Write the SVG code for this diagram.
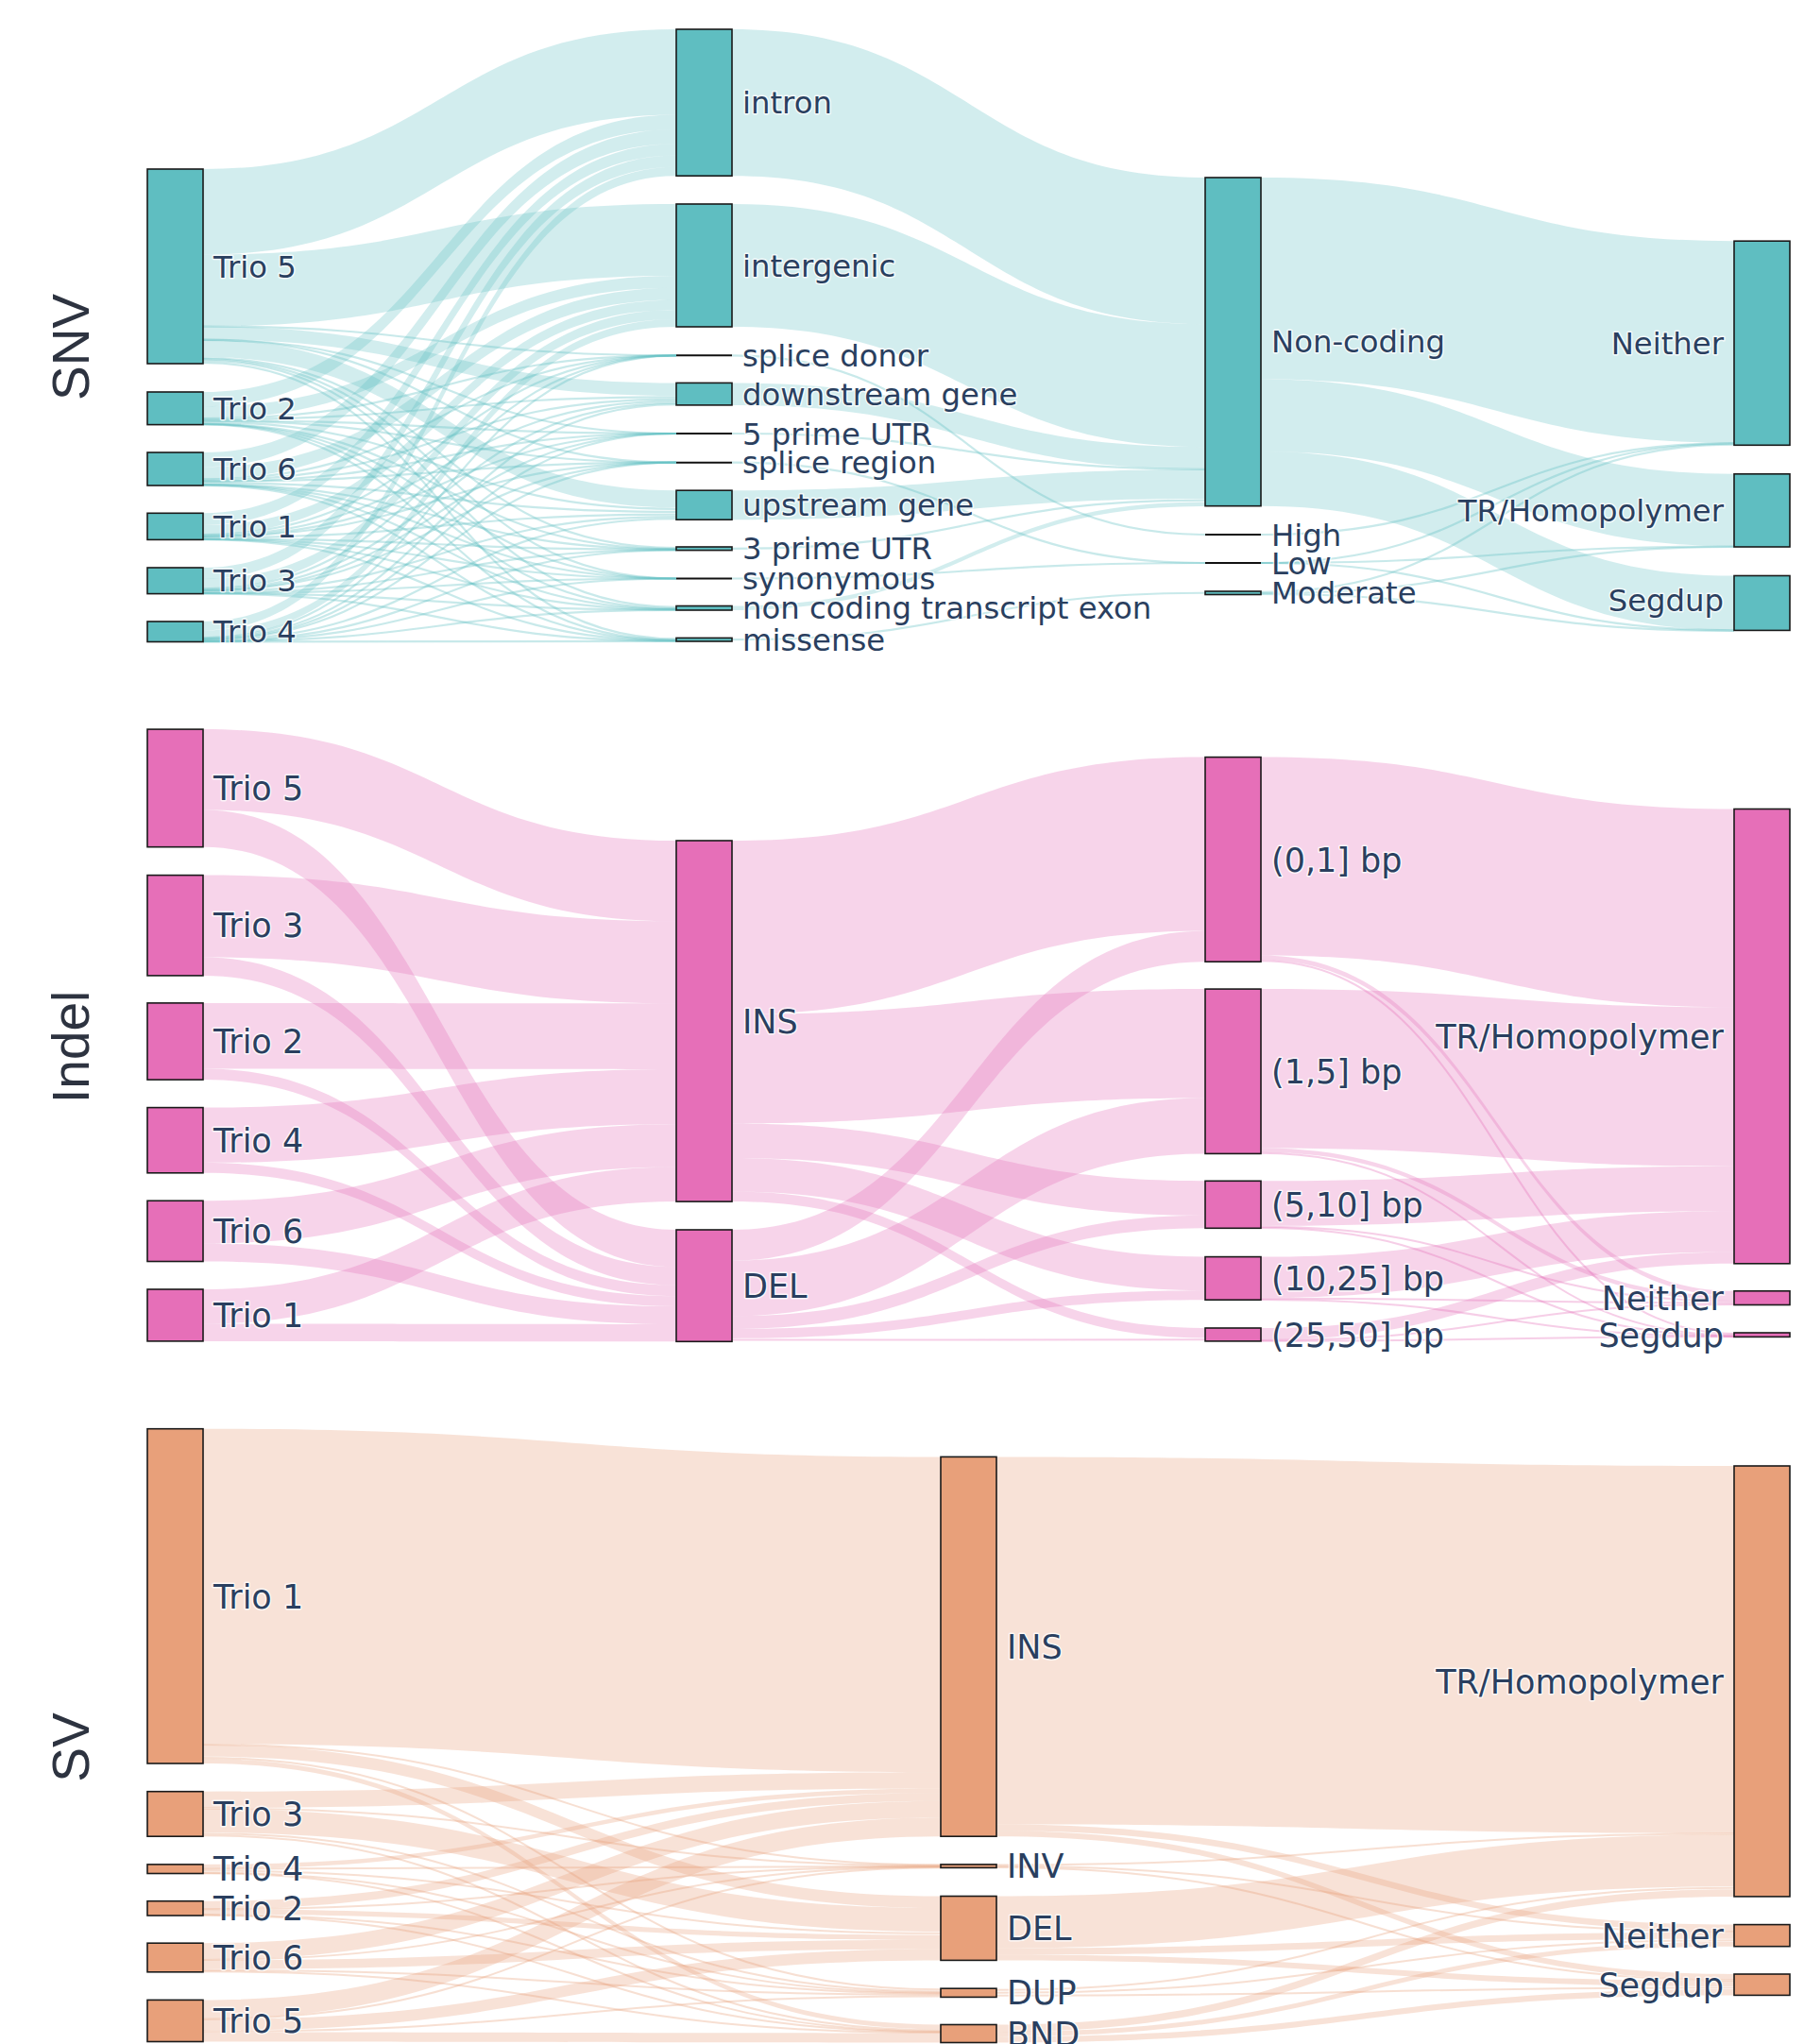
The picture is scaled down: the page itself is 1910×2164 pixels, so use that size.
<svg xmlns="http://www.w3.org/2000/svg" width="1910" height="2164" viewBox="0 0 1910 2164">
<style>
.ls{fill:#5fbec1;fill-opacity:.28}
.lst{fill:none;stroke:#5fbec1;stroke-opacity:.34;stroke-width:2.2}
.li{fill:#e66fb8;fill-opacity:.3}
.lit{fill:none;stroke:#e66fb8;stroke-opacity:.34;stroke-width:2}
.lv{fill:#e8a07a;fill-opacity:.3}
.lvt{fill:none;stroke:#e8a07a;stroke-opacity:.34;stroke-width:2}
.ns{fill:#5fbec1;stroke:#1a1a1a;stroke-width:1.6}
.ni{fill:#e66fb8;stroke:#1a1a1a;stroke-width:1.6}
.nv{fill:#e8a07a;stroke:#1a1a1a;stroke-width:1.6}
.z{stroke:#111;stroke-width:2}
.t{font-family:"DejaVu Sans",Verdana,sans-serif;fill:#2a3f5f;paint-order:stroke;stroke:#fff;stroke-width:3;stroke-opacity:.75;stroke-linejoin:round}
.a{font-size:32.3px}
.b{font-size:35px}
.e{text-anchor:end}
.ttl{font-family:"Liberation Sans",Arial,sans-serif;font-size:55px;fill:#2d3340;text-anchor:middle}
</style>
<rect width="1910" height="2164" fill="#fff"/>
<g id="links">
<g id="links-snv">
<path class="ls" d="M215,179C465.5,179 465.5,31 716,31L716,121.6C465.5,121.6 465.5,269.6 215,269.6Z"/>
<path class="ls" d="M215,269.6C465.5,269.6 465.5,216 716,216L716,291.9C465.5,291.9 465.5,345.6 215,345.6Z"/>
<path class="ls" d="M215,345.8C465.5,345.8 465.5,405.4 716,405.4L716,419.1C465.5,419.1 465.5,359.5 215,359.5Z"/>
<path class="ls" d="M215,359.9C465.5,359.9 465.5,519.2 716,519.2L716,537.3C465.5,537.3 465.5,378 215,378Z"/>
<path class="ls" d="M215,415C465.5,415 465.5,121.6 716,121.6L716,136.9C465.5,136.9 465.5,430.2 215,430.2Z"/>
<path class="ls" d="M215,430.2C465.5,430.2 465.5,291.9 716,291.9L716,304.7C465.5,304.7 465.5,443 215,443Z"/>
<path class="ls" d="M215,479C465.5,479 465.5,136.9 716,136.9L716,152.2C465.5,152.2 465.5,494.4 215,494.4Z"/>
<path class="ls" d="M215,494.4C465.5,494.4 465.5,304.7 716,304.7L716,317.6C465.5,317.6 465.5,507.3 215,507.3Z"/>
<path class="ls" d="M215,543.3C465.5,543.3 465.5,152.2 716,152.2L716,164.6C465.5,164.6 465.5,555.7 215,555.7Z"/>
<path class="ls" d="M215,555.7C465.5,555.7 465.5,317.6 716,317.6L716,327.9C465.5,327.9 465.5,566 215,566Z"/>
<path class="ls" d="M215,601C465.5,601 465.5,164.6 716,164.6L716,176.75C465.5,176.75 465.5,613.1 215,613.1Z"/>
<path class="ls" d="M215,613.1C465.5,613.1 465.5,327.9 716,327.9L716,338.1C465.5,338.1 465.5,623.3 215,623.3Z"/>
<path class="ls" d="M215,658C465.5,658 465.5,176.75 716,176.75L716,186.2C465.5,186.2 465.5,667.5 215,667.5Z"/>
<path class="ls" d="M215,667.5C465.5,667.5 465.5,338.1 716,338.1L716,346C465.5,346 465.5,675.4 215,675.4Z"/>
<path class="lst" d="M215,345.7C465.5,345.7 465.5,376.3 716,376.3"/>
<path class="lst" d="M215,359.6C465.5,359.6 465.5,459 716,459"/>
<path class="lst" d="M215,359.8C465.5,359.8 465.5,489.7 716,489.7"/>
<path class="lst" stroke-width="2.4" d="M215,379.05C465.5,379.05 465.5,580.05 716,580.05"/>
<path class="lst" d="M215,380.2C465.5,380.2 465.5,612.5 716,612.5"/>
<path class="lst" stroke-width="2.8" d="M215,381.6C465.5,381.6 465.5,642.8 716,642.8"/>
<path class="lst" stroke-width="2.4" d="M215,383.95C465.5,383.95 465.5,676.45 716,676.45"/>
<path class="lst" d="M215,443C465.5,443 465.5,376.3 716,376.3"/>
<path class="lst" stroke-width="2.5" d="M215,444.15C465.5,444.15 465.5,420.3 716,420.3"/>
<path class="lst" d="M215,445.3C465.5,445.3 465.5,459 716,459"/>
<path class="lst" d="M215,445.4C465.5,445.4 465.5,489.7 716,489.7"/>
<path class="lst" stroke-width="3" d="M215,446.9C465.5,446.9 465.5,538.8 716,538.8"/>
<path class="lst" d="M215,448.6C465.5,448.6 465.5,581.3 716,581.3"/>
<path class="lst" d="M215,448.8C465.5,448.8 465.5,612.5 716,612.5"/>
<path class="lst" d="M215,449C465.5,449 465.5,644.35 716,644.35"/>
<path class="lst" d="M215,449.4C465.5,449.4 465.5,677.7 716,677.7"/>
<path class="lst" d="M215,507.3C465.5,507.3 465.5,376.3 716,376.3"/>
<path class="lst" stroke-width="2.5" d="M215,508.5C465.5,508.5 465.5,422.6 716,422.6"/>
<path class="lst" d="M215,509.7C465.5,509.7 465.5,459 716,459"/>
<path class="lst" d="M215,509.7C465.5,509.7 465.5,489.7 716,489.7"/>
<path class="lst" stroke-width="3.1" d="M215,511.3C465.5,511.3 465.5,541.9 716,541.9"/>
<path class="lst" d="M215,513C465.5,513 465.5,581.6 716,581.6"/>
<path class="lst" d="M215,513.2C465.5,513.2 465.5,612.5 716,612.5"/>
<path class="lst" d="M215,513.4C465.5,513.4 465.5,644.8 716,644.8"/>
<path class="lst" d="M215,513.8C465.5,513.8 465.5,678 716,678"/>
<path class="lst" d="M215,566C465.5,566 465.5,376.3 716,376.3"/>
<path class="lst" d="M215,567C465.5,567 465.5,424.7 716,424.7"/>
<path class="lst" d="M215,567.9C465.5,567.9 465.5,459 716,459"/>
<path class="lst" d="M215,568C465.5,568 465.5,489.7 716,489.7"/>
<path class="lst" stroke-width="2.5" d="M215,569.2C465.5,569.2 465.5,544.65 716,544.65"/>
<path class="lst" d="M215,570.6C465.5,570.6 465.5,581.95 716,581.95"/>
<path class="lst" d="M215,570.75C465.5,570.75 465.5,612.5 716,612.5"/>
<path class="lst" d="M215,570.9C465.5,570.9 465.5,645.2 716,645.2"/>
<path class="lst" d="M215,571.25C465.5,571.25 465.5,678.35 716,678.35"/>
<path class="lst" d="M215,623.3C465.5,623.3 465.5,376.3 716,376.3"/>
<path class="lst" d="M215,624.3C465.5,624.3 465.5,426.55 716,426.55"/>
<path class="lst" d="M215,625.2C465.5,625.2 465.5,459 716,459"/>
<path class="lst" d="M215,625.2C465.5,625.2 465.5,489.7 716,489.7"/>
<path class="lst" stroke-width="2.4" d="M215,626.45C465.5,626.45 465.5,547.1 716,547.1"/>
<path class="lst" d="M215,627.8C465.5,627.8 465.5,582.24 716,582.24"/>
<path class="lst" d="M215,627.96C465.5,627.96 465.5,612.5 716,612.5"/>
<path class="lst" d="M215,628.15C465.5,628.15 465.5,645.55 716,645.55"/>
<path class="lst" d="M215,628.46C465.5,628.46 465.5,678.64 716,678.64"/>
<path class="lst" d="M215,675.4C465.5,675.4 465.5,376.3 716,376.3"/>
<path class="lst" d="M215,676.1C465.5,676.1 465.5,428.2 716,428.2"/>
<path class="lst" d="M215,676.85C465.5,676.85 465.5,459 716,459"/>
<path class="lst" d="M215,676.9C465.5,676.9 465.5,489.7 716,489.7"/>
<path class="lst" d="M215,677.8C465.5,677.8 465.5,549.25 716,549.25"/>
<path class="lst" d="M215,678.9C465.5,678.9 465.5,582.5 716,582.5"/>
<path class="lst" d="M215,679C465.5,679 465.5,612.5 716,612.5"/>
<path class="lst" d="M215,679.15C465.5,679.15 465.5,645.86 716,645.86"/>
<path class="lst" d="M215,679.4C465.5,679.4 465.5,678.9 716,678.9"/>
<path class="ls" d="M775,31C1025.5,31 1025.5,188 1276,188L1276,343.2C1025.5,343.2 1025.5,186.2 775,186.2Z"/>
<path class="ls" d="M775,216C1025.5,216 1025.5,343.2 1276,343.2L1276,473.2C1025.5,473.2 1025.5,346 775,346Z"/>
<path class="ls" d="M775,405.4C1025.5,405.4 1025.5,473.2 1276,473.2L1276,496.7C1025.5,496.7 1025.5,428.9 775,428.9Z"/>
<path class="ls" d="M775,519.2C1025.5,519.2 1025.5,496.9 1276,496.9L1276,527.9C1025.5,527.9 1025.5,550.2 775,550.2Z"/>
<path class="ls" d="M775,641.5C1025.5,641.5 1025.5,531.5 1276,531.5L1276,536C1025.5,536 1025.5,646 775,646Z"/>
<path class="lst" d="M775,459C1025.5,459 1025.5,496.8 1276,496.8"/>
<path class="lst" stroke-width="3.6" d="M775,580.8C1025.5,580.8 1025.5,529.7 1276,529.7"/>
<path class="lst" d="M775,376.3C1025.5,376.3 1025.5,566 1276,566"/>
<path class="lst" d="M775,489.7C1025.5,489.7 1025.5,596 1276,596"/>
<path class="lst" d="M775,612.5C1025.5,612.5 1025.5,596 1276,596"/>
<path class="lst" stroke-width="3.5" d="M775,677.2C1025.5,677.2 1025.5,627.75 1276,627.75"/>
<path class="ls" d="M1335,188C1585.5,188 1585.5,255.2 1836,255.2L1836,468.8C1585.5,468.8 1585.5,401.6 1335,401.6Z"/>
<path class="ls" d="M1335,401.6C1585.5,401.6 1585.5,501.8 1836,501.8L1836,578.3C1585.5,578.3 1585.5,478.1 1335,478.1Z"/>
<path class="ls" d="M1335,478.1C1585.5,478.1 1585.5,609.5 1836,609.5L1836,667.1C1585.5,667.1 1585.5,535.7 1335,535.7Z"/>
<path class="lst" d="M1335,566C1585.5,566 1585.5,469.1 1836,469.1"/>
<path class="lst" d="M1335,596C1585.5,596 1585.5,469.6 1836,469.6"/>
<path class="lst" d="M1335,596C1585.5,596 1585.5,578.5 1836,578.5"/>
<path class="lst" d="M1335,596C1585.5,596 1585.5,667.3 1836,667.3"/>
<path class="lst" d="M1335,626.9C1585.5,626.9 1585.5,470.6 1836,470.6"/>
<path class="lst" d="M1335,628.2C1585.5,628.2 1585.5,579 1836,579"/>
<path class="lst" d="M1335,629C1585.5,629 1585.5,667.9 1836,667.9"/>
</g>
<g id="links-indel">
<path class="li" d="M215,772.1C465.5,772.1 465.5,890 716,890L716,975.3C465.5,975.3 465.5,857.4 215,857.4Z"/>
<path class="li" d="M215,857.4C465.5,857.4 465.5,1302 716,1302L716,1341.3C465.5,1341.3 465.5,896.7 215,896.7Z"/>
<path class="li" d="M215,926.6C465.5,926.6 465.5,975.3 716,975.3L716,1062.3C465.5,1062.3 465.5,1013.6 215,1013.6Z"/>
<path class="li" d="M215,1013.6C465.5,1013.6 465.5,1341.3 716,1341.3L716,1360.6C465.5,1360.6 465.5,1032.9 215,1032.9Z"/>
<path class="li" d="M215,1061.9C465.5,1061.9 465.5,1062.3 716,1062.3L716,1131.9C465.5,1131.9 465.5,1131.5 215,1131.5Z"/>
<path class="li" d="M215,1131.5C465.5,1131.5 465.5,1360.6 716,1360.6L716,1372.2C465.5,1372.2 465.5,1143.1 215,1143.1Z"/>
<path class="li" d="M215,1172.6C465.5,1172.6 465.5,1131.9 716,1131.9L716,1190.3C465.5,1190.3 465.5,1231 215,1231Z"/>
<path class="li" d="M215,1231C465.5,1231 465.5,1372.2 716,1372.2L716,1383C465.5,1383 465.5,1241.8 215,1241.8Z"/>
<path class="li" d="M215,1271.25C465.5,1271.25 465.5,1190.3 716,1190.3L716,1235.5C465.5,1235.5 465.5,1316.5 215,1316.5Z"/>
<path class="li" d="M215,1316.5C465.5,1316.5 465.5,1383 716,1383L716,1402C465.5,1402 465.5,1335.5 215,1335.5Z"/>
<path class="li" d="M215,1365C465.5,1365 465.5,1235.5 716,1235.5L716,1272.1C465.5,1272.1 465.5,1401.6 215,1401.6Z"/>
<path class="li" d="M215,1401.6C465.5,1401.6 465.5,1402 716,1402L716,1420.3C465.5,1420.3 465.5,1419.9 215,1419.9Z"/>
<path class="li" d="M775,890C1025.5,890 1025.5,801.6 1276,801.6L1276,985.6C1025.5,985.6 1025.5,1074 775,1074Z"/>
<path class="li" d="M775,1074C1025.5,1074 1025.5,1047.1 1276,1047.1L1276,1162.6C1025.5,1162.6 1025.5,1189.5 775,1189.5Z"/>
<path class="li" d="M775,1189.5C1025.5,1189.5 1025.5,1250.3 1276,1250.3L1276,1286.8C1025.5,1286.8 1025.5,1226 775,1226Z"/>
<path class="li" d="M775,1226C1025.5,1226 1025.5,1330.6 1276,1330.6L1276,1366.2C1025.5,1366.2 1025.5,1261.6 775,1261.6Z"/>
<path class="li" d="M775,1261.6C1025.5,1261.6 1025.5,1406 1276,1406L1276,1416.5C1025.5,1416.5 1025.5,1272.1 775,1272.1Z"/>
<path class="li" d="M775,1302C1025.5,1302 1025.5,985.6 1276,985.6L1276,1018.2C1025.5,1018.2 1025.5,1334.6 775,1334.6Z"/>
<path class="li" d="M775,1334.6C1025.5,1334.6 1025.5,1162.6 1276,1162.6L1276,1221.4C1025.5,1221.4 1025.5,1393.4 775,1393.4Z"/>
<path class="li" d="M775,1393.4C1025.5,1393.4 1025.5,1286.8 1276,1286.8L1276,1300.3C1025.5,1300.3 1025.5,1406.9 775,1406.9Z"/>
<path class="li" d="M775,1406.9C1025.5,1406.9 1025.5,1366.2 1276,1366.2L1276,1376.2C1025.5,1376.2 1025.5,1416.9 775,1416.9Z"/>
<path class="lit" stroke-width="3.4" d="M775,1418.6C1025.5,1418.6 1025.5,1418.2 1276,1418.2"/>
<path class="li" d="M1335,801.6C1585.5,801.6 1585.5,856.5 1836,856.5L1836,1066.3C1585.5,1066.3 1585.5,1011.4 1335,1011.4Z"/>
<path class="li" d="M1335,1011.4C1585.5,1011.4 1585.5,1366.8 1836,1366.8L1836,1371.8C1585.5,1371.8 1585.5,1016.4 1335,1016.4Z"/>
<path class="lit" d="M1335,1017.3C1585.5,1017.3 1585.5,1411.9 1836,1411.9"/>
<path class="li" d="M1335,1047.1C1585.5,1047.1 1585.5,1066.3 1836,1066.3L1836,1234.7C1585.5,1234.7 1585.5,1215.5 1335,1215.5Z"/>
<path class="li" d="M1335,1215.5C1585.5,1215.5 1585.5,1371.8 1836,1371.8L1836,1376.3C1585.5,1376.3 1585.5,1220 1335,1220Z"/>
<path class="lit" d="M1335,1220.7C1585.5,1220.7 1585.5,1413.5 1836,1413.5"/>
<path class="li" d="M1335,1250.3C1585.5,1250.3 1585.5,1234.7 1836,1234.7L1836,1282.2C1585.5,1282.2 1585.5,1297.8 1335,1297.8Z"/>
<path class="lit" d="M1335,1298.8C1585.5,1298.8 1585.5,1377.3 1836,1377.3"/>
<path class="lit" d="M1335,1300.05C1585.5,1300.05 1585.5,1414.45 1836,1414.45"/>
<path class="li" d="M1335,1330.6C1585.5,1330.6 1585.5,1282.2 1836,1282.2L1836,1325.4C1585.5,1325.4 1585.5,1373.8 1335,1373.8Z"/>
<path class="lit" d="M1335,1374.8C1585.5,1374.8 1585.5,1379.3 1836,1379.3"/>
<path class="lit" d="M1335,1376C1585.5,1376 1585.5,1414.9 1836,1414.9"/>
<path class="li" d="M1335,1406C1585.5,1406 1585.5,1325.4 1836,1325.4L1836,1337.8C1585.5,1337.8 1585.5,1418.4 1335,1418.4Z"/>
<path class="lit" d="M1335,1419C1585.5,1419 1585.5,1380.9 1836,1380.9"/>
<path class="lit" d="M1335,1419.75C1585.5,1419.75 1585.5,1415.25 1836,1415.25"/>
</g>
<g id="links-sv">
<path class="lv" d="M215,1512.7C605.5,1512.7 605.5,1542.4 996,1542.4L996,1876.2C605.5,1876.2 605.5,1846.5 215,1846.5Z"/>
<path class="lvt" d="M215,1846.9C605.5,1846.9 605.5,1974.3 996,1974.3"/>
<path class="lv" d="M215,1847.3C605.5,1847.3 605.5,2007.5 996,2007.5L996,2020C605.5,2020 605.5,1859.8 215,1859.8Z"/>
<path class="lvt" stroke-width="2.2" d="M215,1860.9C605.5,1860.9 605.5,2106.3 996,2106.3"/>
<path class="lv" d="M215,1862C605.5,1862 605.5,2143.5 996,2143.5L996,2148.5C605.5,2148.5 605.5,1867 215,1867Z"/>
<path class="lv" d="M215,1896.7C605.5,1896.7 605.5,1876.2 996,1876.2L996,1893.6C605.5,1893.6 605.5,1914.1 215,1914.1Z"/>
<path class="lvt" d="M215,1914.6C605.5,1914.6 605.5,1975.2 996,1975.2"/>
<path class="lv" d="M215,1915.1C605.5,1915.1 605.5,2020 996,2020L996,2045C605.5,2045 605.5,1940.1 215,1940.1Z"/>
<path class="lvt" stroke-width="2.1" d="M215,1941.15C605.5,1941.15 605.5,2108.45 996,2108.45"/>
<path class="lvt" d="M215,1943.2C605.5,1943.2 605.5,2149.5 996,2149.5"/>
<path class="lv" d="M215,1973.9C605.5,1973.9 605.5,1893.6 996,1893.6L996,1898.2C605.5,1898.2 605.5,1978.5 215,1978.5Z"/>
<path class="lvt" d="M215,1978.65C605.5,1978.65 605.5,1975.85 996,1975.85"/>
<path class="lvt" stroke-width="3.6" d="M215,1980.6C605.5,1980.6 605.5,2046.8 996,2046.8"/>
<path class="lvt" d="M215,1982.65C605.5,1982.65 605.5,2109.75 996,2109.75"/>
<path class="lvt" d="M215,1983.2C605.5,1983.2 605.5,2150.8 996,2150.8"/>
<path class="lv" d="M215,2012.7C605.5,2012.7 605.5,1898.2 996,1898.2L996,1906.7C605.5,1906.7 605.5,2021.2 215,2021.2Z"/>
<path class="lvt" d="M215,2021.35C605.5,2021.35 605.5,1976.15 996,1976.15"/>
<path class="lv" d="M215,2021.5C605.5,2021.5 605.5,2048.6 996,2048.6L996,2053.8C605.5,2053.8 605.5,2026.7 215,2026.7Z"/>
<path class="lvt" d="M215,2027.1C605.5,2027.1 605.5,2110.4 996,2110.4"/>
<path class="lvt" d="M215,2027.75C605.5,2027.75 605.5,2151.35 996,2151.35"/>
<path class="lv" d="M215,2057.2C605.5,2057.2 605.5,1906.7 996,1906.7L996,1924.2C605.5,1924.2 605.5,2074.7 215,2074.7Z"/>
<path class="lvt" d="M215,2075C605.5,2075 605.5,1976.6 996,1976.6"/>
<path class="lv" d="M215,2075.3C605.5,2075.3 605.5,2053.8 996,2053.8L996,2063.4C605.5,2063.4 605.5,2084.9 215,2084.9Z"/>
<path class="lvt" d="M215,2085.9C605.5,2085.9 605.5,2111.8 996,2111.8"/>
<path class="lvt" d="M215,2087.35C605.5,2087.35 605.5,2152.05 996,2152.05"/>
<path class="lv" d="M215,2117.4C605.5,2117.4 605.5,1924.2 996,1924.2L996,1944.2C605.5,1944.2 605.5,2137.4 215,2137.4Z"/>
<path class="lvt" d="M215,2137.65C605.5,2137.65 605.5,1977.15 996,1977.15"/>
<path class="lv" d="M215,2137.9C605.5,2137.9 605.5,2063.4 996,2063.4L996,2075.4C605.5,2075.4 605.5,2149.9 215,2149.9Z"/>
<path class="lvt" d="M215,2150.7C605.5,2150.7 605.5,2113.6 996,2113.6"/>
<path class="lv" d="M215,2151.5C605.5,2151.5 605.5,2152.5 996,2152.5L996,2162.5C605.5,2162.5 605.5,2161.5 215,2161.5Z"/>
<path class="lv" d="M1055,1542.4C1445.5,1542.4 1445.5,1552 1836,1552L1836,1941C1445.5,1941 1445.5,1931.4 1055,1931.4Z"/>
<path class="lv" d="M1055,1931.4C1445.5,1931.4 1445.5,2037.6 1836,2037.6L1836,2044.4C1445.5,2044.4 1445.5,1938.2 1055,1938.2Z"/>
<path class="lv" d="M1055,1938.2C1445.5,1938.2 1445.5,2090 1836,2090L1836,2096C1445.5,2096 1445.5,1944.2 1055,1944.2Z"/>
<path class="lvt" d="M1055,1974.5C1445.5,1974.5 1445.5,1941.6 1836,1941.6"/>
<path class="lvt" d="M1055,1975.75C1445.5,1975.75 1445.5,2045.05 1836,2045.05"/>
<path class="lvt" d="M1055,1976.9C1445.5,1976.9 1445.5,2096.5 1836,2096.5"/>
<path class="lv" d="M1055,2007.5C1445.5,2007.5 1445.5,1942.2 1836,1942.2L1836,1997.2C1445.5,1997.2 1445.5,2062.5 1055,2062.5Z"/>
<path class="lv" d="M1055,2062.5C1445.5,2062.5 1445.5,2045.7 1836,2045.7L1836,2052.7C1445.5,2052.7 1445.5,2069.5 1055,2069.5Z"/>
<path class="lv" d="M1055,2069.5C1445.5,2069.5 1445.5,2097 1836,2097L1836,2102.9C1445.5,2102.9 1445.5,2075.4 1055,2075.4Z"/>
<path class="lvt" stroke-width="3" d="M1055,2106.7C1445.5,2106.7 1445.5,1998.7 1836,1998.7"/>
<path class="lvt" stroke-width="3" d="M1055,2109.7C1445.5,2109.7 1445.5,2054.2 1836,2054.2"/>
<path class="lvt" stroke-width="3.2" d="M1055,2112.8C1445.5,2112.8 1445.5,2104.5 1836,2104.5"/>
<path class="lv" d="M1055,2143.5C1445.5,2143.5 1445.5,2000.2 1836,2000.2L1836,2007.9C1445.5,2007.9 1445.5,2151.2 1055,2151.2Z"/>
<path class="lv" d="M1055,2151.2C1445.5,2151.2 1445.5,2055.7 1836,2055.7L1836,2060.7C1445.5,2060.7 1445.5,2156.2 1055,2156.2Z"/>
<path class="lv" d="M1055,2156.2C1445.5,2156.2 1445.5,2106.1 1836,2106.1L1836,2112.4C1445.5,2112.4 1445.5,2162.5 1055,2162.5Z"/>
</g>
</g>
<g id="titles">
<text class="ttl" transform="translate(94,367.5) rotate(-90)">SNV</text>
<text class="ttl" transform="translate(94,1108.3) rotate(-90)">Indel</text>
<text class="ttl" transform="translate(94,1850) rotate(-90)">SV</text>
</g>
<g id="nodes-snv">
<g id="snv-trio5"><rect class="ns" x="156" y="179" width="59" height="206"/><text class="t a" x="226" y="293.5">Trio 5</text></g>
<g id="snv-trio2"><rect class="ns" x="156" y="415" width="59" height="34.6"/><text class="t a" x="226" y="443.8">Trio 2</text></g>
<g id="snv-trio6"><rect class="ns" x="156" y="479" width="59" height="35"/><text class="t a" x="226" y="508">Trio 6</text></g>
<g id="snv-trio1"><rect class="ns" x="156" y="543.3" width="59" height="28.1"/><text class="t a" x="226" y="568.9">Trio 1</text></g>
<g id="snv-trio3"><rect class="ns" x="156" y="601" width="59" height="27.6"/><text class="t a" x="226" y="626.3">Trio 3</text></g>
<g id="snv-trio4"><rect class="ns" x="156" y="658" width="59" height="21.5"/><text class="t a" x="226" y="680.3">Trio 4</text></g>
<g id="snv-intron"><rect class="ns" x="716" y="31" width="59" height="155.2"/><text class="t a" x="786" y="120.1">intron</text></g>
<g id="snv-intergenic"><rect class="ns" x="716" y="216" width="59" height="130"/><text class="t a" x="786" y="292.5">intergenic</text></g>
<g id="snv-splice-donor"><line class="z" x1="716" y1="376.3" x2="775" y2="376.3"/><text class="t a" x="786" y="387.8">splice donor</text></g>
<g id="snv-downstream"><rect class="ns" x="716" y="405.4" width="59" height="23.5"/><text class="t a" x="786" y="428.7">downstream gene</text></g>
<g id="snv-5utr"><line class="z" x1="716" y1="459" x2="775" y2="459"/><text class="t a" x="786" y="470.5">5 prime UTR</text></g>
<g id="snv-splice-region"><line class="z" x1="716" y1="489.7" x2="775" y2="489.7"/><text class="t a" x="786" y="501.2">splice region</text></g>
<g id="snv-upstream"><rect class="ns" x="716" y="519.2" width="59" height="31"/><text class="t a" x="786" y="546.2">upstream gene</text></g>
<g id="snv-3utr"><rect class="ns" x="716" y="579" width="59" height="3.6"/><text class="t a" x="786" y="592.3">3 prime UTR</text></g>
<g id="snv-synonymous"><line class="z" x1="716" y1="612.5" x2="775" y2="612.5"/><text class="t a" x="786" y="624">synonymous</text></g>
<g id="snv-ncte"><rect class="ns" x="716" y="641.5" width="59" height="4.5"/><text class="t a" x="786" y="655.3">non coding transcript exon</text></g>
<g id="snv-missense"><rect class="ns" x="716" y="675.4" width="59" height="3.6"/><text class="t a" x="786" y="688.7">missense</text></g>
<g id="snv-noncoding"><rect class="ns" x="1276" y="188" width="59" height="347.7"/><text class="t a" x="1346" y="373.4">Non-coding</text></g>
<g id="snv-high"><line class="z" x1="1276" y1="566" x2="1335" y2="566"/><text class="t a" x="1346" y="577.5">High</text></g>
<g id="snv-low"><line class="z" x1="1276" y1="596" x2="1335" y2="596"/><text class="t a" x="1346" y="607.5">Low</text></g>
<g id="snv-moderate"><rect class="ns" x="1276" y="626" width="59" height="3.5"/><text class="t a" x="1346" y="639.3">Moderate</text></g>
<g id="snv-neither"><rect class="ns" x="1836" y="255.2" width="59" height="216.1"/><text class="t a e" x="1825" y="374.8">Neither</text></g>
<g id="snv-tr"><rect class="ns" x="1836" y="501.8" width="59" height="77.2"/><text class="t a e" x="1825" y="551.9">TR/Homopolymer</text></g>
<g id="snv-segdup"><rect class="ns" x="1836" y="609.5" width="59" height="57.9"/><text class="t a e" x="1825" y="647">Segdup</text></g>
</g>
<g id="nodes-indel">
<g id="indel-trio5"><rect class="ni" x="156" y="772.1" width="59" height="124.6"/><text class="t b" x="226" y="847">Trio 5</text></g>
<g id="indel-trio3"><rect class="ni" x="156" y="926.6" width="59" height="106.3"/><text class="t b" x="226" y="992.4">Trio 3</text></g>
<g id="indel-trio2"><rect class="ni" x="156" y="1061.9" width="59" height="81.2"/><text class="t b" x="226" y="1115.1">Trio 2</text></g>
<g id="indel-trio4"><rect class="ni" x="156" y="1172.6" width="59" height="69.2"/><text class="t b" x="226" y="1219.8">Trio 4</text></g>
<g id="indel-trio6"><rect class="ni" x="156" y="1271.25" width="59" height="64.25"/><text class="t b" x="226" y="1316">Trio 6</text></g>
<g id="indel-trio1"><rect class="ni" x="156" y="1365" width="59" height="54.9"/><text class="t b" x="226" y="1405.1">Trio 1</text></g>
<g id="indel-ins"><rect class="ni" x="716" y="890" width="59" height="382.1"/><text class="t b" x="786" y="1093.6">INS</text></g>
<g id="indel-del"><rect class="ni" x="716" y="1302" width="59" height="118.3"/><text class="t b" x="786" y="1373.8">DEL</text></g>
<g id="indel-0-1"><rect class="ni" x="1276" y="801.6" width="59" height="216.6"/><text class="t b" x="1346" y="922.5">(0,1] bp</text></g>
<g id="indel-1-5"><rect class="ni" x="1276" y="1047.1" width="59" height="174.3"/><text class="t b" x="1346" y="1146.9">(1,5] bp</text></g>
<g id="indel-5-10"><rect class="ni" x="1276" y="1250.3" width="59" height="50"/><text class="t b" x="1346" y="1287.9">(5,10] bp</text></g>
<g id="indel-10-25"><rect class="ni" x="1276" y="1330.6" width="59" height="45.6"/><text class="t b" x="1346" y="1366">(10,25] bp</text></g>
<g id="indel-25-50"><rect class="ni" x="1276" y="1406" width="59" height="13.9"/><text class="t b" x="1346" y="1425.6">(25,50] bp</text></g>
<g id="indel-tr"><rect class="ni" x="1836" y="856.5" width="59" height="481.3"/><text class="t b e" x="1825" y="1109.8">TR/Homopolymer</text></g>
<g id="indel-neither"><rect class="ni" x="1836" y="1366.8" width="59" height="14.7"/><text class="t b e" x="1825" y="1386.8">Neither</text></g>
<g id="indel-segdup"><rect class="ni" x="1836" y="1411" width="59" height="4.4"/><text class="t b e" x="1825" y="1425.8">Segdup</text></g>
</g>
<g id="nodes-sv">
<g id="sv-trio1"><rect class="nv" x="156" y="1512.7" width="59" height="354.3"/><text class="t b" x="226" y="1702.5">Trio 1</text></g>
<g id="sv-trio3"><rect class="nv" x="156" y="1896.7" width="59" height="47.5"/><text class="t b" x="226" y="1933">Trio 3</text></g>
<g id="sv-trio4"><rect class="nv" x="156" y="1973.9" width="59" height="9.6"/><text class="t b" x="226" y="1991.3">Trio 4</text></g>
<g id="sv-trio2"><rect class="nv" x="156" y="2012.7" width="59" height="15.3"/><text class="t b" x="226" y="2033">Trio 2</text></g>
<g id="sv-trio6"><rect class="nv" x="156" y="2057.2" width="59" height="30.6"/><text class="t b" x="226" y="2085.1">Trio 6</text></g>
<g id="sv-trio5"><rect class="nv" x="156" y="2117.4" width="59" height="44.1"/><text class="t b" x="226" y="2152">Trio 5</text></g>
<g id="sv-ins"><rect class="nv" x="996" y="1542.4" width="59" height="401.8"/><text class="t b" x="1066" y="1755.9">INS</text></g>
<g id="sv-inv"><rect class="nv" x="996" y="1973.9" width="59" height="3.5"/><text class="t b" x="1066" y="1988.3">INV</text></g>
<g id="sv-del"><rect class="nv" x="996" y="2007.5" width="59" height="67.9"/><text class="t b" x="1066" y="2054">DEL</text></g>
<g id="sv-dup"><rect class="nv" x="996" y="2105.2" width="59" height="9.2"/><text class="t b" x="1066" y="2122.4">DUP</text></g>
<g id="sv-bnd"><rect class="nv" x="996" y="2143.5" width="59" height="19"/><text class="t b" x="1066" y="2166">BND</text></g>
<g id="sv-tr"><rect class="nv" x="1836" y="1552" width="59" height="455.9"/><text class="t b e" x="1825" y="1792.6">TR/Homopolymer</text></g>
<g id="sv-neither"><rect class="nv" x="1836" y="2037.6" width="59" height="23.1"/><text class="t b e" x="1825" y="2061.8">Neither</text></g>
<g id="sv-segdup"><rect class="nv" x="1836" y="2090" width="59" height="22.4"/><text class="t b e" x="1825" y="2113.8">Segdup</text></g>
</g>
</svg>
